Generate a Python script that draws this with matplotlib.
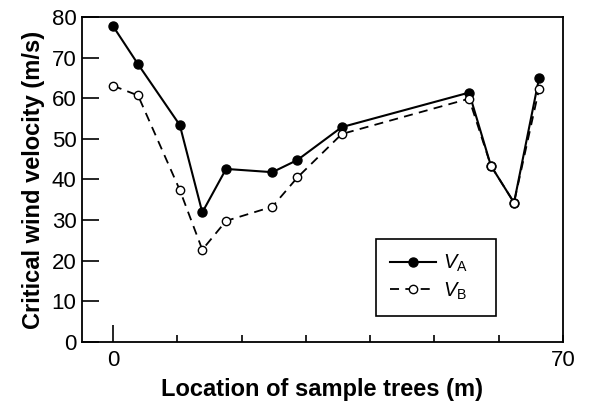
#!/usr/bin/env python3

import matplotlib
matplotlib.use('Agg')
import matplotlib.pyplot as plt

plt.rcParams['font.family'] = 'Liberation Sans'
plt.rcParams['mathtext.fontset'] = 'custom'
plt.rcParams['mathtext.rm'] = 'Liberation Sans'
plt.rcParams['mathtext.it'] = 'Liberation Sans:italic'

location = [0, 3.9, 10.4, 13.9, 17.6, 24.8, 28.7, 35.6, 55.4, 58.8, 62.4, 66.3]
v_a = [77.8, 68.4, 53.4, 31.9, 42.6, 41.8, 44.8, 52.9, 61.4, 43.4, 34.3, 65.0]
v_b = [63.1, 60.7, 37.4, 22.7, 29.8, 33.3, 40.5, 51.2, 59.9, 43.4, 34.3, 62.3]


def main():
    fig = plt.figure(figsize=(5.95, 4.07), dpi=100)
    ax = fig.add_axes([0.138, 0.160, 0.808, 0.798])

    ax.plot(location, v_a, 'k-', marker='o', markersize=6.5, lw=1.5,
            label=r'$V_{\mathrm{A}}$')
    ax.plot(location, v_b, 'k--', marker='o', markersize=6, lw=1.3,
            markerfacecolor='white', dashes=(5, 3.5), label=r'$V_{\mathrm{B}}$')

    ax.set_xlim(-4.8, 70)
    ax.set_ylim(0, 80)
    ax.set_xticks(range(0, 71, 10))
    ax.set_xticklabels(['0', '', '', '', '', '', '', '70'])
    ax.set_yticks(range(0, 81, 10))
    ax.tick_params(direction='in', width=1.2, labelsize=16)
    ax.tick_params(axis='x', length=5, pad=6)
    ax.tick_params(axis='y', length=12, pad=4)
    ax.xaxis.get_major_ticks()[0].tick1line.set_markersize(12)
    for s in ax.spines.values():
        s.set_linewidth(1.3)

    ax.set_xlabel('Location of sample trees (m)', fontsize=17,
                  fontweight='bold', labelpad=5)
    ax.set_ylabel('Critical wind velocity (m/s)', fontsize=17,
                  fontweight='bold', labelpad=5)

    leg = ax.legend(loc='lower left', bbox_to_anchor=(0.611, 0.08, 0.2495, 0.22),
                    mode='expand', borderaxespad=0, fontsize=14.5,
                    fancybox=False, edgecolor='black', framealpha=1,
                    handlelength=2.3, handletextpad=0.35,
                    borderpad=0.7, labelspacing=0.3)
    leg.get_frame().set_linewidth(1.2)

    fig.savefig('out.png', dpi=100)


if __name__ == '__main__':
    main()
